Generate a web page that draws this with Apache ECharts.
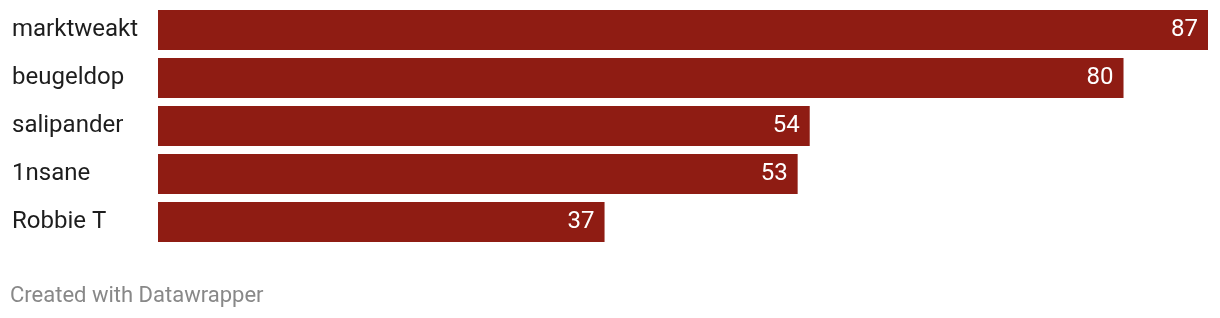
<!DOCTYPE html>
<html><head><meta charset="utf-8">
<script src="https://cdn.jsdelivr.net/npm/echarts@6/dist/echarts.min.js"></script>
<style>html,body{margin:0;padding:0;background:#fff}#c{width:1220px;height:318px}</style>
</head><body><div id="c"></div>
<script>
const categories = ["marktweakt", "beugeldop", "salipander", "1nsane", "Robbie T"];
const values = [87, 80, 54, 53, 37];
const footer = "Created with Datawrapper";

const chart = echarts.init(document.getElementById('c'), null, {renderer: 'canvas'});
chart.setOption({
  animation: false,
  grid: {left: 158, right: 12, top: 6, height: 240, containLabel: false},
  xAxis: {type: 'value', min: 0, max: 87, show: false},
  yAxis: {
    type: 'category', data: categories, inverse: true,
    axisLine: {show: false}, axisTick: {show: false}, splitLine: {show: false},
    axisLabel: {align: 'left', margin: 146, fontFamily: 'Roboto', fontSize: 24, color: '#1d1d1d'}
  },
  series: [{
    type: 'bar', data: values, barCategoryGap: '16.67%',
    itemStyle: {color: '#8f1c13'},
    label: {show: true, position: 'insideRight', distance: 10, fontFamily: 'Roboto', fontSize: 24, color: '#fff'}
  }],
  graphic: [{
    type: 'text', left: 10, top: 285,
    style: {text: footer, fontFamily: 'Roboto', fontSize: 22, fill: '#888'}
  }]
});
</script></body></html>
